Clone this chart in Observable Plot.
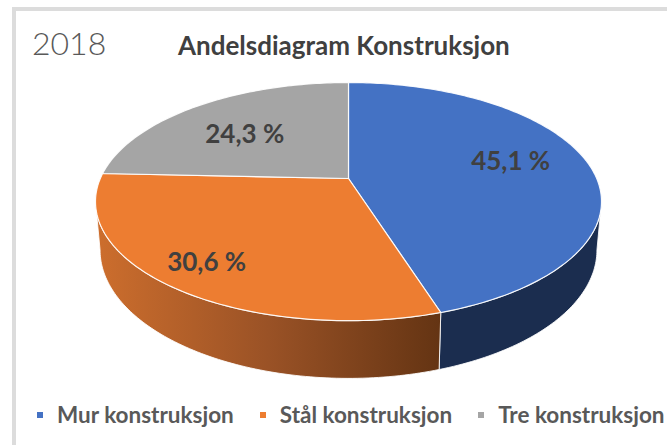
<!DOCTYPE html>
<html><head><meta charset="utf-8">
<script src="https://cdn.jsdelivr.net/npm/d3@7"></script>
<script src="https://cdn.jsdelivr.net/npm/@observablehq/plot@0.6"></script>
<style>
body{margin:0;background:#fff;}
#wrap{position:relative;width:667px;height:445px;overflow:hidden;font-family:Lato,"Open Sans",sans-serif;}
#frame{position:absolute;left:12px;top:7px;width:700px;height:500px;border-top:4px solid #dcdcdc;border-left:4px solid #dcdcdc;}
#year{position:absolute;left:32px;top:27px;font-size:32px;font-weight:300;color:#595959;line-height:1;}
#title{position:absolute;left:178px;top:32px;font-size:26px;font-weight:700;color:#404040;line-height:1;}
#chart{position:absolute;left:0;top:60px;}
#legend{position:absolute;left:37px;top:404px;display:flex;align-items:center;white-space:nowrap;font-size:22.5px;font-weight:700;color:#595959;line-height:1;}
.item{display:flex;align-items:center;margin-right:26px;}
.sw{width:6px;height:6px;margin-right:14px;}
</style></head>
<body>
<div id="wrap">
  <div id="frame"></div>
  <div id="year">2018</div>
  <div id="title">Andelsdiagram Konstruksjon</div>
  <div id="chart"></div>
  <div id="legend"></div>
</div>
<script>
// ---- data ----
const categories = ["Mur konstruksjon", "Stål konstruksjon", "Tre konstruksjon"];
const shares = [45.1, 30.6, 24.3];
const shareLabels = ["45,1 %", "30,6 %", "24,3 %"];
const topColors = ["#4472C4", "#ED7D31", "#A5A5A5"];
const sideColors = ["#1B2D4F", "url(#sideOrange)", "#6e6e6e"];

// ---- 3D perspective geometry (layout) ----
const CX = 348, CY = 178, AX = 248.2, BY = 114.6, P = 0.194, DEPTH = 46.5, SHRINK = 0.982;
const labelRadius = [0.69, 0.814, 0.61];
const labelAngleShift = [-4, 0.5, -4];

function project(phiDeg, r, bottom) {
  const t = phiDeg * Math.PI / 180;
  const X = r * Math.sin(t), Y = -r * Math.cos(t);
  const w = 1 - P * Y;
  const k = bottom ? SHRINK : 1;
  return {x: CX + k * AX * X / w, y: CY + BY * Y / w + (bottom ? DEPTH / w : 0)};
}
function arc(a0, a1, bottom) {
  const n = Math.max(2, Math.ceil(Math.abs(a1 - a0)));
  return d3.range(n + 1).map(i => project(a0 + (a1 - a0) * i / n, 1, bottom));
}

const total = d3.sum(shares);
let acc = 0;
const slices = shares.map((v, i) => {
  const s = acc / total * 360; acc += v;
  const e = acc / total * 360;
  return {i, s, e, mid: (s + e) / 2};
});

const visLo = Math.acos(-P) * 180 / Math.PI, visHi = 360 - visLo;

const marks = [];
// sides
slices.forEach(sl => {
  const a = Math.max(sl.s, visLo), b = Math.min(sl.e, visHi);
  if (b <= a) return;
  const pts = [...arc(a, b, false), ...arc(b, a, true)];
  pts.push(pts[0]);
  marks.push(Plot.line(pts, {x: "x", y: "y", fill: sideColors[sl.i], stroke: "#ffffff", strokeWidth: 1, strokeOpacity: 0.85}));
});
// top faces
slices.forEach(sl => {
  const c = project(0, 0, false);
  const pts = [c, ...arc(sl.s, sl.e, false), c];
  marks.push(Plot.line(pts, {x: "x", y: "y", fill: topColors[sl.i], stroke: "#ffffff", strokeWidth: 1.2, strokeOpacity: 0.9}));
});
// labels
const labelPts = slices.map(sl => ({...project(sl.mid + labelAngleShift[sl.i], labelRadius[sl.i], false), text: shareLabels[sl.i]}));
marks.push(Plot.text(labelPts, {x: "x", y: "y", text: "text", fill: "#404040", fontSize: 26, fontWeight: "bold", fontFamily: "Lato, 'Open Sans', sans-serif"}));

const svg = Plot.plot({
  width: 667, height: 332, margin: 0,
  x: {domain: [0, 667], range: [0, 667], axis: null},
  y: {domain: [60, 392], range: [0, 332], axis: null},
  marks
});
const ns = "http://www.w3.org/2000/svg";
const defs = document.createElementNS(ns, "defs");
const grad = document.createElementNS(ns, "linearGradient");
grad.setAttribute("id", "sideOrange");
grad.setAttribute("x1", "0"); grad.setAttribute("y1", "0");
grad.setAttribute("x2", "1"); grad.setAttribute("y2", "0");
[["0", "#CD6E2D"], ["0.5", "#9A5226"], ["1", "#643413"]].forEach(([o, c]) => {
  const st = document.createElementNS(ns, "stop");
  st.setAttribute("offset", o); st.setAttribute("stop-color", c);
  grad.appendChild(st);
});
defs.appendChild(grad);
svg.insertBefore(defs, svg.firstChild);
document.getElementById("chart").appendChild(svg);

// legend
const legend = document.getElementById("legend");
categories.forEach((c, i) => {
  const item = document.createElement("div"); item.className = "item";
  const sw = document.createElement("div"); sw.className = "sw"; sw.style.background = topColors[i];
  const tx = document.createElement("span"); tx.textContent = c;
  item.appendChild(sw); item.appendChild(tx);
  legend.appendChild(item);
});
</script>
</body></html>
